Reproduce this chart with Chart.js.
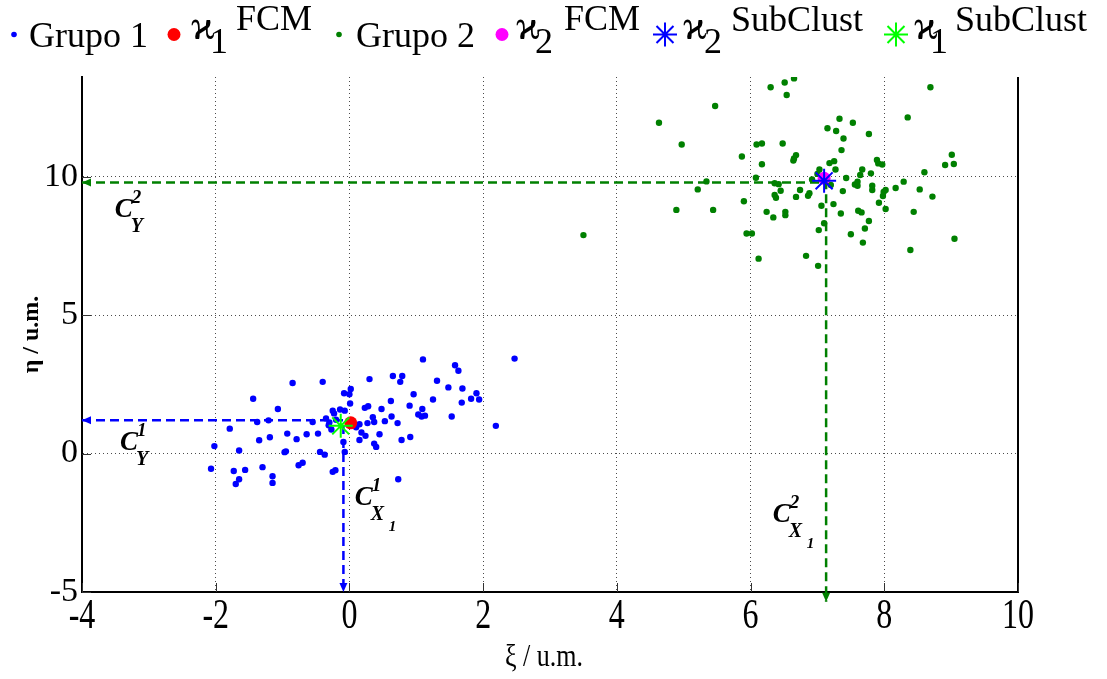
<!DOCTYPE html>
<html><head><meta charset="utf-8">
<script src="https://cdn.jsdelivr.net/npm/chart.js@4"></script>
<style>html,body{margin:0;padding:0;background:#fff;}#wrap{width:1107px;height:679px;position:relative;}</style>
</head><body><div id="wrap"><canvas id="c" width="1107" height="679"></canvas></div>
<script>
// ---------- DATA ----------
const xTicks = [-4, -2, 0, 2, 4, 6, 8, 10];
const yTicks = [-5, 0, 5, 10];
const xTitle = 'ξ / u.m.';
const yTitle = 'η / u.m.';

const group1X = [2.47,1.10,1.58,1.63,0.65,0.79,0.76,0.30,-0.85,-0.40,1.31,1.48,1.69,1.90,1.94,1.82,1.68,1.25,0.96,0.62,0.90,1.09,1.03,1.08,1.13,1.53,2.19,0.63,0.72,0.53,0.48,0.28,0.23,0.35,0.37,0.27,0.15,0.45,0.78,0.91,0.37,0.40,0.24,0.18,0.15,0.02,0.00,-0.08,0.01,-0.14,-0.25,-0.23,-0.07,-0.35,-0.31,-0.27,-0.09,-0.07,-0.44,-0.37,-0.21,-0.25,0.73,-0.47,-0.64,-0.79,-0.93,-0.55,-1.07,-1.44,-1.38,-1.21,-1.79,-1.19,-1.35,-0.97,-0.95,-2.02,-1.65,-2.07,-1.73,-1.56,-1.30,-1.65,-1.70,-1.15,-1.15,-0.76,-0.70,-0.20,0.10,-0.30];
const group1Y = [3.43,3.40,3.19,2.99,2.80,2.80,2.59,2.69,2.55,2.59,2.63,2.39,2.35,2.18,1.95,1.98,1.84,1.95,2.14,1.90,1.73,1.61,1.41,1.34,1.37,1.34,1.00,1.34,1.10,1.17,1.61,1.71,1.65,1.31,1.14,1.10,1.06,0.70,0.49,0.60,0.36,0.24,0.64,0.76,0.49,2.33,2.14,2.18,1.81,1.59,1.55,1.45,1.55,1.27,1.02,0.87,0.42,0.06,0.06,-0.04,-0.60,-0.66,-0.93,0.72,0.70,0.52,0.72,1.14,1.61,1.98,1.14,1.20,0.90,0.59,0.48,0.05,0.08,0.27,0.11,-0.55,-0.63,-0.59,-0.49,-0.93,-1.10,-0.82,-1.06,-0.42,-0.33,1.22,0.95,1.12];

const group2X = [3.50,4.63,4.97,5.47,4.89,5.44,5.21,5.34,5.87,5.90,5.94,6.02,6.08,6.09,6.17,6.17,6.12,6.30,6.51,6.65,6.54,6.48,6.65,6.68,6.64,6.24,6.34,6.36,6.42,6.36,6.38,6.45,6.52,6.52,6.68,6.74,6.86,6.88,6.83,7.01,7.02,7.06,7.10,7.03,7.15,7.28,7.33,7.53,7.39,7.36,7.18,7.25,7.27,7.43,7.38,7.24,7.35,7.50,7.68,7.71,7.77,7.61,7.66,7.56,7.60,7.60,7.64,7.67,7.77,7.80,7.82,7.82,7.89,7.91,7.97,7.92,7.98,7.99,8.02,8.02,8.17,8.29,8.35,8.60,8.69,8.53,8.72,8.44,8.39,8.91,9.01,9.04,9.05,6.92,7.00,7.20];
const group2Y = [7.89,11.95,11.16,12.55,8.80,8.80,9.54,9.83,10.73,9.11,7.95,7.95,9.96,11.16,11.20,10.45,7.04,13.23,13.40,13.55,12.95,11.20,10.66,10.78,10.58,8.73,8.53,9.76,9.73,9.34,9.24,9.49,8.73,8.61,9.27,9.52,9.31,9.40,7.14,6.78,8.07,8.95,8.32,10.26,11.75,11.65,12.09,11.95,11.38,10.96,10.49,10.56,10.26,9.95,9.48,9.01,8.67,7.92,7.62,8.13,8.40,8.77,8.71,9.72,9.67,9.82,10.06,10.26,11.54,10.12,9.67,9.52,10.60,10.48,10.44,9.06,9.30,9.45,9.52,8.83,9.59,9.82,12.14,10.16,13.23,9.54,9.28,8.73,7.35,10.42,10.79,10.46,7.76,9.90,10.10,9.70];

const fcm1 = [0.02, 1.11];
const fcm2 = [7.10, 9.94];
const sub1 = [-0.13, 1.00];
const sub2 = [7.10, 9.85];
const proj1X = [-4, -0.09, -0.09];
const proj1Y = [1.20, 1.20, -5.0];
const proj2X = [-4, 7.13, 7.13];
const proj2Y = [9.79, 9.79, -5.35];

const legendNames = ['Grupo 1', 'FCM', 'Grupo 2', 'FCM', 'SubClust', 'SubClust'];
const legendSubs = ['', '1', '', '2', '2', '1'];
const KAPPA = '\u03F0';

// ---------- HELPERS ----------
const pts = (xs, ys) => xs.map((x, i) => ({x, y: ys[i]}));
const SERIF = "'Liberation Serif','Times New Roman',serif";

function drawDot(ctx, x, y, r, c) { ctx.beginPath(); ctx.arc(x, y, r, 0, Math.PI * 2); ctx.fillStyle = c; ctx.fill(); }
function drawStar(ctx, x, y, r, c, lw) {
  ctx.strokeStyle = c; ctx.lineWidth = lw; ctx.beginPath();
  for (let k = 0; k < 4; k++) {
    const a = k * Math.PI / 4; const dx = Math.cos(a) * r, dy = Math.sin(a) * r;
    ctx.moveTo(x - dx, y - dy); ctx.lineTo(x + dx, y + dy);
  }
  ctx.stroke();
}
function arrowHead(ctx, tip, from, c) {
  const ang = Math.atan2(tip.y - from.y, tip.x - from.x);
  const L = 9, W = 4;
  ctx.fillStyle = c; ctx.beginPath();
  ctx.moveTo(tip.x, tip.y);
  ctx.lineTo(tip.x - L * Math.cos(ang) + W * Math.sin(ang), tip.y - L * Math.sin(ang) - W * Math.cos(ang));
  ctx.lineTo(tip.x - L * Math.cos(ang) - W * Math.sin(ang), tip.y - L * Math.sin(ang) + W * Math.cos(ang));
  ctx.closePath(); ctx.fill();
}

const LEG = [
  {type: 'dot', color: '#0000ff', mx: 14, tx: 29},
  {type: 'circle', color: '#ff0000', mx: 174, kx: 191, sx: 210, px: 236, pb: 30},
  {type: 'dot', color: '#008000', mx: 339, tx: 356},
  {type: 'circle', color: '#ff00ff', mx: 502, kx: 516, sx: 535, px: 564, pb: 30},
  {type: 'star', color: '#0000ff', mx: 665, kx: 683, sx: 704, px: 731, pb: 31},
  {type: 'star', color: '#00ff00', mx: 896, kx: 914, sx: 930, px: 955, pb: 31}
];

const annX = [-3.51, -3.43, 0.08, 6.33];
const annY = [8.54, 0.12, -1.87, -2.48];
const annSup = ['2', '1', '1', '2'];
const annSub = ['Y', 'Y', 'X', 'X'];
const annSub2 = ['', '', '1', '1'];

const X_STRETCH = 1.35;

const custom = {
  id: 'custom',
  afterDatasetsDraw(chart) {
    const ctx = chart.ctx;
    ctx.save();
    [[4, '#0000ff'], [5, '#008000']].forEach(([i, c]) => {
      const d = chart.getDatasetMeta(i).data;
      arrowHead(ctx, d[0], d[1], c);
      arrowHead(ctx, d[d.length - 1], d[d.length - 2], c);
    });
    ctx.restore();
  },
  afterDraw(chart) {
    const ctx = chart.ctx; const {left, right, top, bottom} = chart.chartArea;
    const xs = chart.scales.x, ys = chart.scales.y;
    ctx.save();
    ctx.strokeStyle = '#000'; ctx.lineWidth = 2;
    ctx.beginPath(); ctx.moveTo(right, top); ctx.lineTo(right, bottom + 1); ctx.stroke();
    ctx.lineWidth = 1; ctx.strokeStyle = '#333';
    xTicks.forEach(v => { const p = Math.round(xs.getPixelForValue(v)) + 0.5; ctx.beginPath(); ctx.moveTo(p, bottom); ctx.lineTo(p, bottom - 9); ctx.stroke(); });
    yTicks.forEach(v => { const p = Math.round(ys.getPixelForValue(v)) + 0.5; ctx.beginPath(); ctx.moveTo(left, p); ctx.lineTo(left + 9, p); ctx.stroke(); });

    // x tick labels (vertically stretched as in the original export)
    ctx.fillStyle = '#000'; ctx.textAlign = 'center'; ctx.textBaseline = 'alphabetic';
    ctx.font = '32px ' + SERIF;
    xs.ticks.forEach(t => {
      const p = xs.getPixelForValue(t.value);
      ctx.save(); ctx.translate(p, bottom + 36); ctx.scale(1, X_STRETCH);
      ctx.fillText(String(t.value), 0, 0); ctx.restore();
    });
    // x title (stretched likewise)
    ctx.font = '26px ' + SERIF;
    ctx.save(); ctx.translate((left + right) / 2 - 6, 666); ctx.scale(1, 1.2);
    ctx.fillText(xTitle, 0, 0); ctx.restore();

    // annotations
    ctx.textAlign = 'left';
    annX.forEach((ax, i) => {
      const x = xs.getPixelForValue(ax), y = ys.getPixelForValue(annY[i]);
      ctx.font = 'italic bold 27px ' + SERIF; ctx.fillText('C', x, y);
      ctx.font = 'italic bold 19px ' + SERIF; ctx.fillText(annSup[i], x + 17, y - 14);
      ctx.font = 'italic bold 20px ' + SERIF; ctx.fillText(annSub[i], x + 16, y + 15);
      if (annSub2[i]) { ctx.font = 'italic bold 15px ' + SERIF; ctx.fillText(annSub2[i], x + 34, y + 26); }
    });

    // legend
    LEG.forEach((e, i) => {
      const my = 34.5;
      if (e.type === 'dot') drawDot(ctx, e.mx, my, 2.8, e.color);
      else if (e.type === 'circle') drawDot(ctx, e.mx, my, 6.5, e.color);
      else drawStar(ctx, e.mx, my, 12, e.color, 2);
      ctx.fillStyle = '#000';
      if (e.tx !== undefined) {
        ctx.font = '36px ' + SERIF; ctx.fillText(legendNames[i], e.tx, 47);
      } else {
        ctx.font = '42px ' + SERIF; ctx.fillText(KAPPA, e.kx, 39);
        ctx.font = '36px ' + SERIF; ctx.fillText(legendSubs[i], e.sx, 53);
        ctx.fillText(legendNames[i], e.px, e.pb);
      }
    });
    ctx.restore();
  }
};

const gridCommon = {color: 'rgba(0,0,0,0.7)', lineWidth: 1, drawTicks: false};

new Chart(document.getElementById('c'), {
  type: 'scatter',
  data: {
    datasets: [
      {label: 'x1 SubClust', data: pts([sub1[0]], [sub1[1]]), pointStyle: 'star', pointRadius: 12, borderColor: '#00ff00', backgroundColor: '#00ff00', pointBorderWidth: 2, order: 1},
      {label: 'x2 SubClust', data: pts([sub2[0]], [sub2[1]]), pointStyle: 'star', pointRadius: 12, borderColor: '#0000ff', backgroundColor: '#0000ff', pointBorderWidth: 2, order: 2},
      {label: 'x2 FCM', data: pts([fcm2[0]], [fcm2[1]]), pointRadius: 6.5, backgroundColor: '#ff00ff', borderWidth: 0, pointBorderWidth: 0, order: 4},
      {label: 'x1 FCM', data: pts([fcm1[0]], [fcm1[1]]), pointRadius: 6.5, backgroundColor: '#ff0000', borderWidth: 0, pointBorderWidth: 0, order: 5},
      {label: 'proj1', data: pts(proj1X, proj1Y), showLine: true, borderColor: '#0000ff', borderWidth: 2.5, borderDash: [9, 5], pointRadius: 0, clip: false, order: 3},
      {label: 'proj2', data: pts(proj2X, proj2Y), showLine: true, borderColor: '#008000', borderWidth: 2.5, borderDash: [9, 5], pointRadius: 0, clip: false, order: 3},
      {label: 'Grupo 2', data: pts(group2X, group2Y), pointRadius: 3.2, backgroundColor: '#008000', pointBorderWidth: 0, borderWidth: 0, order: 7},
      {label: 'Grupo 1', data: pts(group1X, group1Y), pointRadius: 3.2, backgroundColor: '#0000ff', pointBorderWidth: 0, borderWidth: 0, order: 8}
    ]
  },
  options: {
    responsive: false, animation: false, devicePixelRatio: 1, events: [],
    layout: {padding: {left: 0, right: 89, top: 77, bottom: 0}},
    plugins: {legend: {display: false}, tooltip: {enabled: false}},
    scales: {
      x: {
        type: 'linear', min: -4, max: 10,
        afterBuildTicks: s => { s.ticks = xTicks.map(v => ({value: v})); },
        afterFit: s => { s.height = 87; },
        ticks: {color: 'rgba(0,0,0,0)', font: {family: SERIF, size: 32}, padding: 0, callback: v => String(v), autoSkip: false, maxRotation: 0},
        grid: gridCommon,
        border: {display: true, color: '#000', width: 2, dash: [1, 3]},
        title: {display: false, text: xTitle}
      },
      y: {
        type: 'linear', min: -5, max: 13.6,
        afterBuildTicks: s => { s.ticks = yTicks.map(v => ({value: v})); },
        afterFit: s => { s.width = 82; },
        ticks: {color: '#000', font: {family: SERIF, size: 34}, padding: 4, callback: v => String(v), autoSkip: false},
        grid: gridCommon,
        border: {display: true, color: '#000', width: 2, dash: [1, 3]},
        title: {display: true, text: yTitle, color: '#000', font: {family: SERIF, size: 24, weight: 'bold'}, padding: {top: 17, bottom: 0}}
      }
    }
  },
  plugins: [custom]
});
</script></body></html>
